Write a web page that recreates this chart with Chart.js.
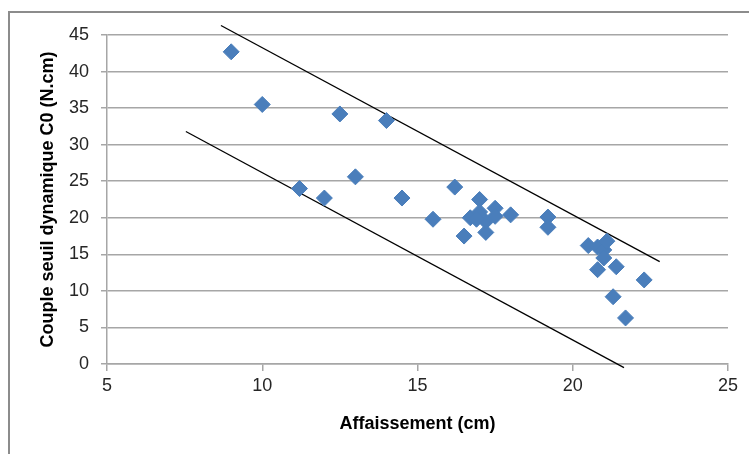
<!DOCTYPE html>
<html>
<head>
<meta charset="utf-8">
<script src="https://cdn.jsdelivr.net/npm/chart.js@4"></script>
<style>
  body { margin: 0; background: #fff; }
  canvas { display: block; }
</style>
</head>
<body>
<canvas id="seuilChart" width="749" height="454"></canvas>
<script>
// Mesures : affaissement (cm) et couple seuil dynamique C0 (N.cm)
const affaissement = [9, 10, 12.5, 14, 11.2, 12, 13, 14.5, 15.5, 16.2, 17, 16.7, 17, 17.5, 17.5, 17.2,
  17.2, 16.5, 18, 16.9, 19.2, 19.2, 20.5, 20.8, 21, 21.1, 21, 20.8, 21.4, 22.3, 21.3, 21.7];
const coupleC0 = [42.7, 35.5, 34.2, 33.3, 24, 22.7, 25.6, 22.7, 19.8, 24.2, 22.5, 20, 20.8, 21.3, 20.2, 19.5,
  18, 17.5, 20.4, 19.8, 20.1, 18.7, 16.2, 16, 15.6, 16.8, 14.5, 12.9, 13.3, 11.5, 9.2, 6.3];

// Droites enveloppes (haut / bas)
const upperX = [8.67, 22.8];
const upperY = [46.3, 14.0];
const lowerX = [7.54, 21.65];
const lowerY = [31.8, -0.5];

const xTicks = [5, 10, 15, 20, 25];
const yTicks = [0, 5, 10, 15, 20, 25, 30, 35, 40, 45];

function toPoints(xs, ys) {
  return xs.map((x, i) => ({ x: x, y: ys[i] }));
}

const framePlugin = {
  id: "frame",
  beforeDraw(chart) {
    const ctx = chart.ctx;
    ctx.save();
    ctx.fillStyle = "#fff";
    ctx.fillRect(0, 0, chart.width, chart.height);
    ctx.strokeStyle = "#8c8c8c";
    ctx.lineWidth = 2;
    ctx.strokeRect(9, 12, 800, 500);
    ctx.restore();
  },
};

const tickFont = { family: "'Liberation Sans', Arial, sans-serif", size: 18 };

new Chart(document.getElementById("seuilChart"), {
  type: "scatter",
  data: {
    datasets: [
      {
        data: toPoints(affaissement, coupleC0),
        pointStyle: "rectRot",
        pointRadius: 8,
        pointHoverRadius: 8,
        backgroundColor: "#4a7ebb",
        borderColor: "#4a7ebb",
        borderWidth: 1,
      },
      {
        type: "line",
        data: toPoints(upperX, upperY),
        borderColor: "#000",
        borderWidth: 1.3,
        pointRadius: 0,
        clip: false,
      },
      {
        type: "line",
        data: toPoints(lowerX, lowerY),
        borderColor: "#000",
        borderWidth: 1.3,
        pointRadius: 0,
        clip: false,
      },
    ],
  },
  options: {
    responsive: false,
    animation: false,
    layout: { padding: { top: 35, right: 21, bottom: 0, left: 0 } },
    plugins: {
      legend: { display: false },
      tooltip: { enabled: false },
    },
    scales: {
      x: {
        type: "linear",
        min: 5,
        max: 25,
        afterBuildTicks: (scale) => { scale.ticks = xTicks.map((v) => ({ value: v })); },
        afterFit: (scale) => { scale.height = 90; },
        grid: {
          drawOnChartArea: false,
          drawTicks: true,
          tickLength: 7,
          color: "#a6a6a6",
          lineWidth: 1.5,
        },
        border: { color: "#a6a6a6", width: 1.5 },
        ticks: { color: "#262626", font: tickFont, padding: 4, maxRotation: 0 },
        title: {
          display: true,
          text: "Affaissement (cm)",
          color: "#000",
          font: { family: "'Liberation Sans Narrow', 'Liberation Sans', Arial, sans-serif", size: 18, weight: "bold" },
          padding: { top: 0, bottom: 19 },
        },
      },
      y: {
        min: 0,
        max: 45,
        afterBuildTicks: (scale) => { scale.ticks = yTicks.map((v) => ({ value: v })); },
        afterFit: (scale) => { scale.width = 107; },
        grid: {
          drawTicks: true,
          tickLength: 6,
          color: "#a6a6a6",
          lineWidth: 1.5,
        },
        border: { color: "#a6a6a6", width: 1.5 },
        ticks: { color: "#262626", font: tickFont, padding: 12 },
        title: {
          display: true,
          text: "Couple seuil dynamique C0 (N.cm)",
          color: "#000",
          font: { family: "'Liberation Sans', Arial, sans-serif", size: 18, weight: "bold" },
          padding: { top: 37, bottom: 0 },
        },
      },
    },
  },
  plugins: [framePlugin],
});
</script>
</body>
</html>
